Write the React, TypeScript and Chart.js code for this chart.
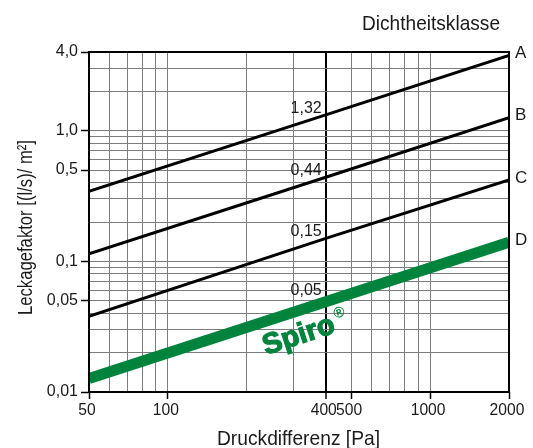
import React, { useEffect, useRef } from 'react';
import { Chart, registerables } from 'chart.js';

Chart.register(...registerables);

// Data
const pressures = [50, 400, 2000];
const classA = [0.343, 1.32, 3.77];
const classB = [0.114, 0.44, 1.26];
const classC = [0.038, 0.15, 0.42];
const classD = [0.0127, 0.049, 0.14];
const classNames = ['A', 'B', 'C', 'D'];
const valuesAt400 = ['1,32', '0,44', '0,15', '0,05'];
const xGridValues = [50, 60, 70, 80, 90, 100, 200, 300, 400, 500, 600, 700, 800, 900, 1000, 2000];
const xTickValues = [50, 100, 400, 500, 1000, 2000];
const yGridValues = [
  0.01, 0.02, 0.03, 0.04, 0.05, 0.06, 0.07, 0.08, 0.09,
  0.1, 0.2, 0.3, 0.4, 0.5, 0.6, 0.7, 0.8, 0.9,
  1, 2, 3, 4,
];
const yTickValues = [0.01, 0.05, 0.1, 0.5, 1, 4];
const yTickLabels = ['0,01', '0,05', '0,1', '0,5', '1,0', '4,0'];

const xTitle = 'Druckdifferenz [Pa]';
const yTitle = 'Leckagefaktor [(l/s)/ m²]';
const legendTitle = 'Dichtheitsklasse';
const brandText = 'Spiro';

const GREEN = '#00843d';
const TEXT = '#1a1a1a';
const GRID = '#7c7c7c';
const SANS = '"Liberation Sans", Arial, sans-serif';
const NARROW = '"Liberation Sans Narrow", "Liberation Sans", Arial, sans-serif';

const series = [classA, classB, classC, classD];

const near = (a: number, b: number) => Math.abs(a - b) < 1e-9 * Math.max(1, Math.abs(b));
const inList = (v: number, list: number[]) => list.some((l) => near(v, l));

function fitText(ctx: CanvasRenderingContext2D, text: string, x: number, y: number, width: number, font: string) {
  ctx.save();
  ctx.font = font;
  const w = ctx.measureText(text).width;
  ctx.translate(x, y);
  ctx.scale(width / w, 1);
  ctx.textAlign = 'center';
  ctx.textBaseline = 'alphabetic';
  ctx.fillText(text, 0, 0);
  ctx.restore();
}

function scaledText(ctx: CanvasRenderingContext2D, text: string, x: number, y: number, sx: number, font: string) {
  ctx.save();
  ctx.font = font;
  ctx.translate(x, y);
  ctx.scale(sx, 1);
  ctx.textAlign = 'center';
  ctx.textBaseline = 'alphabetic';
  ctx.fillText(text, 0, 0);
  ctx.restore();
}

const overlay = {
  id: 'overlay',
  afterDatasetsDraw(chart: any) {
    const { ctx, chartArea: a, scales } = chart;
    const xs = scales.x;
    const ys = scales.y;
    ctx.save();
    // frame
    ctx.strokeStyle = '#000';
    ctx.lineWidth = 2;
    ctx.strokeRect(a.left, a.top, a.right - a.left, a.bottom - a.top);

    // x tick labels
    ctx.fillStyle = TEXT;
    xTickValues.forEach((v) => {
      scaledText(ctx, String(v), xs.getPixelForValue(v) - 2, a.bottom + 23, 0.92, `17px ${SANS}`);
    });

    // values at 400 Pa
    ctx.font = `16px ${SANS}`;
    ctx.textAlign = 'right';
    ctx.textBaseline = 'alphabetic';
    const x400 = xs.getPixelForValue(400);
    series.forEach((s, i) => {
      const yp = ys.getPixelForValue(s[1]);
      ctx.fillText(valuesAt400[i], x400 - 4, yp - (i === 3 ? 7 : 2));
    });

    // class names at right
    ctx.font = `17px ${SANS}`;
    ctx.textAlign = 'left';
    ctx.textBaseline = 'middle';
    series.forEach((s, i) => {
      const yp = ys.getPixelForValue(s[s.length - 1]);
      ctx.fillText(classNames[i], a.right + 6, yp - 2);
    });

    // titles
    ctx.fillStyle = TEXT;
    fitText(ctx, legendTitle, 431, 30, 138, `21px ${NARROW}`);
    fitText(ctx, xTitle, 298.5, 445, 163, `21px ${NARROW}`);
    ctx.save();
    ctx.translate(32, 227.5);
    ctx.rotate(-Math.PI / 2);
    fitText(ctx, yTitle, 0, 0, 175, `21px ${NARROW}`);
    ctx.restore();

    // Spiro brand text along the green line
    const x0 = xs.getPixelForValue(pressures[0]);
    const x1 = xs.getPixelForValue(pressures[pressures.length - 1]);
    const y0 = ys.getPixelForValue(classD[0]);
    const y1 = ys.getPixelForValue(classD[classD.length - 1]);
    const ang = Math.atan2(y1 - y0, x1 - x0);
    ctx.save();
    ctx.translate(266, 355);
    ctx.rotate(ang);
    ctx.fillStyle = GREEN;
    ctx.strokeStyle = GREEN;
    ctx.lineWidth = 1.2;
    ctx.font = `bold 29px ${SANS}`;
    ctx.textAlign = 'left';
    ctx.textBaseline = 'alphabetic';
    ctx.fillText(brandText, 0, 0);
    ctx.strokeText(brandText, 0, 0);
    const bw = ctx.measureText(brandText).width;
    ctx.font = `bold 15px ${SANS}`;
    ctx.fillText('®', bw + 3, -13);
    ctx.restore();

    ctx.restore();
  },
};

export default function App() {
  const ref = useRef<HTMLCanvasElement>(null);
  useEffect(() => {
    const canvas = ref.current;
    if (!canvas) return;
    const mk = (arr: number[]) => pressures.map((p, i) => ({ x: p, y: arr[i] }));
    const chart = new Chart(canvas, {
      type: 'scatter',
      data: {
        datasets: [
          { data: mk(classD), borderColor: GREEN, backgroundColor: GREEN, borderWidth: 11, showLine: true, pointRadius: 0, clip: 0, borderCapStyle: 'butt' } as any,
          { data: mk(classC), borderColor: '#000', borderWidth: 3, showLine: true, pointRadius: 0, clip: 0 } as any,
          { data: mk(classB), borderColor: '#000', borderWidth: 3, showLine: true, pointRadius: 0, clip: 0 } as any,
          { data: mk(classA), borderColor: '#000', borderWidth: 3, showLine: true, pointRadius: 0, clip: 0 } as any,
        ],
      },
      options: {
        responsive: false,
        animation: false,
        devicePixelRatio: 1,
        layout: { padding: { left: 0, top: 52, right: 24, bottom: 0 } },
        plugins: { legend: { display: false }, tooltip: { enabled: false }, title: { display: false } },
        scales: {
          x: {
            type: 'logarithmic',
            min: 50,
            max: 2000,
            afterBuildTicks: (s: any) => {
              s.ticks = xGridValues.map((v) => ({ value: v }));
            },
            afterFit: (s: any) => {
              s.height = 56;
            },
            ticks: {
              autoSkip: false,
              maxRotation: 0,
              minRotation: 0,
              padding: 2,
              color: TEXT,
              font: { family: SANS, size: 16 },
              callback: () => '',
            },
            grid: {
              color: (c: any) => (c.tick && near(c.tick.value, 400) ? '#000' : GRID),
              lineWidth: (c: any) => (c.tick && near(c.tick.value, 400) ? 2 : 1),
              tickColor: (c: any) => (c.tick && inList(c.tick.value, xTickValues) ? '#000' : 'rgba(0,0,0,0)'),
              tickLength: 7,
              tickWidth: 1.5,
            },
            border: { display: false },
          },
          y: {
            type: 'logarithmic',
            min: 0.01,
            max: 4,
            afterBuildTicks: (s: any) => {
              s.ticks = yGridValues.map((v) => ({ value: v }));
            },
            afterFit: (s: any) => {
              s.width = 89;
            },
            ticks: {
              autoSkip: false,
              padding: 3,
              color: TEXT,
              font: { family: SANS, size: 16 },
              callback: (v: any) => {
                const idx = yTickValues.findIndex((t) => near(Number(v), t));
                return idx >= 0 ? yTickLabels[idx] : '';
              },
            },
            grid: {
              color: GRID,
              lineWidth: 1,
              tickColor: (c: any) => (c.tick && inList(c.tick.value, yTickValues) ? '#000' : 'rgba(0,0,0,0)'),
              tickLength: 8,
              tickWidth: 1.5,
            },
            border: { display: false },
          },
        },
      } as any,
      plugins: [overlay],
    });
    return () => chart.destroy();
  }, []);
  return (
    <div style={{ position: 'absolute', left: 0, top: 0, width: 533, height: 448, background: '#fff' }}>
      <canvas ref={ref} width={533} height={448} style={{ width: 533, height: 448, display: 'block' }} />
    </div>
  );
}
